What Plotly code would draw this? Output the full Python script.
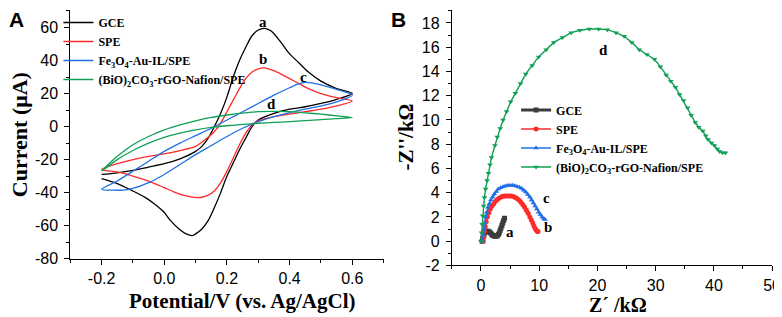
import plotly.graph_objects as go

# ---------------- Panel A: cyclic voltammograms ----------------
cv_names = ["GCE", "SPE", "Fe<sub>3</sub>O<sub>4</sub>-Au-IL/SPE",
            "(BiO)<sub>2</sub>CO<sub>3</sub>-rGO-Nafion/SPE"]
cv_colors = ["#000000", "#ff2a2a", "#1f70e6", "#10a055"]

gce_E = [-0.2, -0.15, -0.1, -0.05, 0.0, 0.05, 0.1, 0.12, 0.14, 0.16, 0.18, 0.2, 0.22, 0.24, 0.26, 0.28, 0.3,
         0.32, 0.34, 0.36, 0.38, 0.4, 0.43, 0.46, 0.5, 0.55, 0.6,
         0.55, 0.5, 0.45, 0.4, 0.35, 0.3, 0.28, 0.26, 0.24, 0.22, 0.2, 0.18, 0.16, 0.14, 0.12, 0.1, 0.09,
         0.07, 0.05, 0.02, 0.0, -0.03, -0.06, -0.1, -0.15, -0.2]
gce_I = [-29, -28, -26.5, -24.5, -22.5, -19.5, -15, -12, -7, 0, 8, 18, 30, 40, 48, 55, 58.5,
         59.5, 58, 54, 49, 44, 38.5, 33, 27.5, 23, 20,
         16.5, 14, 12, 10.5, 8, 4, 0, -7, -14, -22, -30, -40, -49, -57, -62, -65, -66,
         -65, -62.5, -57, -52, -47, -43, -39, -34.5, -31.5]

spe_E = [-0.2, -0.15, -0.1, -0.05, 0.0, 0.05, 0.1, 0.13, 0.16, 0.18, 0.2, 0.22, 0.24, 0.26, 0.28, 0.3,
         0.32, 0.34, 0.36, 0.38, 0.4, 0.43, 0.46, 0.5, 0.55, 0.6,
         0.55, 0.5, 0.45, 0.4, 0.35, 0.3, 0.28, 0.26, 0.24, 0.22, 0.2, 0.18, 0.16, 0.14, 0.12, 0.105,
         0.09, 0.06, 0.03, 0.0, -0.05, -0.1, -0.15, -0.2]
spe_I = [-26, -22.5, -20, -18, -16.5, -14.5, -12, -8, -3, 2, 9, 16, 23, 29, 33, 35,
         35.5, 34.5, 33, 31, 29, 26, 23, 20, 17.5, 15.5,
         12.5, 10.5, 9, 7.5, 6, 3.5, 1, -4, -11, -19, -27, -34, -39, -41.5, -42.8, -43,
         -42.7, -41.5, -39.5, -37, -33, -30, -27.5, -26]

fe_E = [-0.2, -0.15, -0.1, -0.05, 0.0, 0.05, 0.1, 0.15, 0.2, 0.25, 0.3, 0.35, 0.4, 0.43, 0.45, 0.47,
        0.5, 0.55, 0.6,
        0.55, 0.5, 0.45, 0.4, 0.35, 0.3, 0.25, 0.2, 0.15, 0.1, 0.05, 0.0, -0.05, -0.1, -0.13, -0.16, -0.2]
fe_I = [-38, -33, -27, -21, -15, -10, -5.5, -1, 4, 9, 14, 19, 23.5, 26, 26.8, 26.5,
        25.3, 22.5, 19,
        15, 12.5, 10.5, 8.5, 6, 3, -1, -6, -11.5, -17, -23, -29, -34, -37.5, -38.5, -38.5, -38]

bio_E = [-0.2, -0.15, -0.1, -0.05, 0.0, 0.05, 0.1, 0.15, 0.2, 0.25, 0.3, 0.35, 0.4, 0.45, 0.5, 0.55, 0.6,
         0.55, 0.5, 0.45, 0.4, 0.35, 0.3, 0.25, 0.2, 0.15, 0.1, 0.05, 0.0, -0.05, -0.1, -0.15, -0.2]
bio_I = [-27, -18, -11, -6, -2, 1, 3.5, 5.5, 7, 8.2, 9, 9.2, 9, 8.3, 7.5, 6.5, 5.5,
         4.8, 4.2, 3.6, 3.0, 2.5, 2.0, 1.3, 0.5, -0.5, -2, -4, -6.5, -10, -14.5, -20, -27]

cv_labels = ["a", "b", "c", "d"]
cv_label_E = [0.314, 0.314, 0.443, 0.341]
cv_label_I = [63.5, 40.8, 30.2, 13.5]

# ---------------- Panel B: Nyquist plots ----------------
eis_names = cv_names
eis_colors = ["#3c3c3c", "#ff2a2a", "#1f70e6", "#10a055"]
eis_symbols = ["square", "circle", "triangle-up", "triangle-down"]

gce_Zr = [0.2, 0.3, 0.4, 0.5, 0.65, 0.8, 1.0, 1.2, 1.4, 1.6, 1.8, 2.0, 2.2, 2.4, 2.6, 2.8, 3.0, 3.15,
          3.3, 3.45, 3.6, 3.75, 3.9, 4.05]
gce_Zi = [0, 0.2, 0.4, 0.55, 0.7, 0.78, 0.82, 0.82, 0.78, 0.7, 0.6, 0.5, 0.45, 0.42, 0.42, 0.45, 0.55, 0.7,
          0.9, 1.1, 1.3, 1.5, 1.7, 1.9]

spe_Zr = [0.4, 0.5, 0.6, 0.75, 0.9, 1.1, 1.35, 1.6, 1.9, 2.2, 2.5, 2.8, 3.1, 3.45, 3.8, 4.15, 4.5, 4.85,
          5.2, 5.55, 5.9, 6.25, 6.6, 6.9, 7.2, 7.5, 7.8, 8.1, 8.4, 8.65, 8.9, 9.1, 9.3, 9.5, 9.7, 9.8]
spe_Zi = [0, 0.4, 0.8, 1.2, 1.6, 2.0, 2.35, 2.65, 2.9, 3.1, 3.3, 3.45, 3.55, 3.65, 3.7, 3.72, 3.74, 3.74,
          3.72, 3.68, 3.6, 3.5, 3.35, 3.2, 3.0, 2.8, 2.55, 2.3, 2.0, 1.75, 1.5, 1.25, 1.05, 0.9, 0.8, 0.8]

fe_Zr = [0.3, 0.4, 0.5, 0.65, 0.8, 1.0, 1.2, 1.45, 1.7, 2.0, 2.3, 2.65, 3.0, 3.4, 3.8, 4.2, 4.6, 5.0, 5.4,
         5.8, 6.2, 6.6, 7.0, 7.35, 7.7, 8.05, 8.4, 8.7, 9.0, 9.3, 9.6, 9.9, 10.2, 10.5, 10.8, 11.0]
fe_Zi = [0, 0.5, 1.0, 1.5, 2.0, 2.4, 2.8, 3.1, 3.4, 3.65, 3.9, 4.1, 4.3, 4.42, 4.5, 4.56, 4.6, 4.62, 4.62,
         4.58, 4.52, 4.45, 4.35, 4.2, 4.05, 3.85, 3.65, 3.4, 3.15, 2.9, 2.65, 2.4, 2.2, 2.0, 1.85, 1.8]

bio_Zr = [0, 0.1, 0.2, 0.3, 0.45, 0.6, 0.8, 1.05, 1.3, 1.55, 1.8, 2.4, 2.8, 3.3, 3.8, 4.4, 5.1, 5.9, 6.8,
          7.7, 8.8, 9.9, 11.2, 12.5, 14.0, 15.5, 17.0, 18.6, 20.2, 21.7, 23.2, 24.6, 25.9, 27.2, 28.5,
          29.8, 30.8, 31.8, 32.6, 33.4, 34.1, 34.8, 35.5, 36.1, 36.8, 37.4, 38.1, 38.6, 39.0, 39.6,
          40.1, 40.6, 41.0, 41.5, 42.0]
bio_Zi = [0, 0.7, 1.4, 2.1, 2.9, 3.6, 4.3, 5.0, 5.6, 6.3, 6.9, 7.9, 8.6, 9.3, 10.0, 10.7, 11.5, 12.2, 13.0,
          13.8, 14.5, 15.2, 15.8, 16.4, 16.8, 17.2, 17.4, 17.5, 17.5, 17.45, 17.2, 16.9, 16.4, 15.8, 15.4,
          15.0, 14.4, 13.7, 13.2, 12.7, 12.1, 11.6, 11.0, 10.4, 9.8, 9.4, 9.1, 8.7, 8.4, 8.1,
          7.9, 7.6, 7.4, 7.3, 7.3]

eis_labels = ["a", "b", "c", "d"]
eis_label_Zr = [5.0, 11.5, 11.2, 21.1]
eis_label_Zi = [0.8, 1.2, 3.55, 15.8]

# tick labels
a_xticks = [-0.2, 0.0, 0.2, 0.4, 0.6]
a_xticktext = ["-0.2", "0.0", "0.2", "0.4", "0.6"]
a_yticks = [-80, -60, -40, -20, 0, 20, 40, 60]
a_yticktext = ["-80", "-60", "-40", "-20", "0", "20", "40", "60"]
b_xticks = [0, 10, 20, 30, 40, 50]
b_xticktext = ["0", "10", "20", "30", "40", "50"]
b_yticks = [-2, 0, 2, 4, 6, 8, 10, 12, 14, 16, 18]
b_yticktext = ["-2", "0", "2", "4", "6", "8", "10", "12", "14", "16", "18"]

W, H = 782, 317
SERIF = "Liberation Serif, Times New Roman, serif"
SANS = "Liberation Sans, Arial, sans-serif"

fig = go.Figure()

cv_E = [gce_E, spe_E, fe_E, bio_E]
cv_I = [gce_I, spe_I, fe_I, bio_I]
for name, col, E, I in zip(cv_names, cv_colors, cv_E, cv_I):
    fig.add_trace(go.Scatter(x=E, y=I, mode="lines", name=name,
                             line=dict(color=col, width=1.3, shape="spline", smoothing=0.8),
                             xaxis="x", yaxis="y", legend="legend"))

eis_x = [gce_Zr, spe_Zr, fe_Zr, bio_Zr]
eis_y = [gce_Zi, spe_Zi, fe_Zi, bio_Zi]
eis_widths = [3, 1.6, 1.6, 1.4]
for name, col, sym, zx, zy, lw in zip(eis_names, eis_colors, eis_symbols, eis_x, eis_y, eis_widths):
    fig.add_trace(go.Scatter(x=zx, y=zy, mode="lines+markers", name=name,
                             line=dict(color=col, width=lw),
                             marker=dict(symbol=sym, size=5, color=col),
                             xaxis="x2", yaxis="y2", legend="legend2"))

annotations = []
for t, ex, iy in zip(cv_labels, cv_label_E, cv_label_I):
    annotations.append(dict(x=ex, y=iy, xref="x", yref="y", text="<b>%s</b>" % t, showarrow=False,
                            xanchor="center", yanchor="middle",
                            font=dict(family=SERIF, size=15, color="black")))
for t, ex, iy in zip(eis_labels, eis_label_Zr, eis_label_Zi):
    annotations.append(dict(x=ex, y=iy, xref="x2", yref="y2", text="<b>%s</b>" % t, showarrow=False,
                            xanchor="center", yanchor="middle",
                            font=dict(family=SERIF, size=15, color="black")))

def px_x(p):
    return p / W

def px_y(p):
    return 1 - p / H

def paper_text(x, y, text, family, size, angle=0):
    return dict(x=px_x(x), y=px_y(y), xref="paper", yref="paper", showarrow=False,
                xanchor="center", yanchor="middle", textangle=angle,
                text=text, font=dict(family=family, size=size, color="black"))

# axis titles and panel letters
annotations += [
    paper_text(237, 302, "<b>Potential/V (vs. Ag/AgCl)</b>", SERIF, 21),
    paper_text(11, 130, "<b>Current (μA)</b>", SERIF, 22, -90),
    paper_text(617, 306, "<b>Z\u00b4 /kΩ</b>", SERIF, 20),
    paper_text(403, 133, "<b>-Z''/kΩ</b>", SERIF, 21, -90),
    paper_text(9, 12, "<b>A</b>", SANS, 21),
    paper_text(395, 12, "<b>B</b>", SANS, 21),
]

axis_common = dict(showline=True, linecolor="black", linewidth=1, ticks="outside", ticklen=5,
                   tickwidth=1, tickcolor="black", showgrid=False, zeroline=False, mirror=False,
                   tickfont=dict(family=SANS, size=16, color="black"))

fig.update_layout(
    width=W, height=H, margin=dict(l=0, r=0, t=0, b=0),
    paper_bgcolor="white", plot_bgcolor="white",
    showlegend=True,
    xaxis=dict(domain=[px_x(63), px_x(380)], range=[-0.3, 0.7], anchor="y",
               tickvals=a_xticks, ticktext=a_xticktext, ticklabelstandoff=0,
               minor=dict(dtick=0.1, tick0=0, ticks="outside", ticklen=3, tickcolor="black"),
               **axis_common),
    yaxis=dict(domain=[px_y(258), px_y(1.7)], range=[-80, 70.8], anchor="x",
               tickvals=a_yticks, ticktext=a_yticktext, ticklabelstandoff=3,
               minor=dict(dtick=10, tick0=0, ticks="outside", ticklen=3, tickcolor="black"),
               **axis_common),
    xaxis2=dict(domain=[px_x(449), px_x(773)], range=[-5, 50], anchor="y2",
                tickvals=b_xticks, ticktext=b_xticktext, ticklabelstandoff=0,
                minor=dict(dtick=5, tick0=0, ticks="outside", ticklen=3, tickcolor="black"),
                **axis_common),
    yaxis2=dict(domain=[px_y(265), px_y(1.7)], range=[-2, 19.1], anchor="x2",
                tickvals=b_yticks, ticktext=b_yticktext, ticklabelstandoff=3,
                minor=dict(dtick=1, tick0=0, ticks="outside", ticklen=3, tickcolor="black"),
                **axis_common),
    legend=dict(x=px_x(51), y=1.0, xanchor="left", yanchor="top", bgcolor="rgba(0,0,0,0)",
                font=dict(family=SERIF, size=12, color="black", weight="bold"),
                tracegroupgap=0, itemwidth=30),
    legend2=dict(x=px_x(514), y=px_y(90), xanchor="left", yanchor="top", bgcolor="rgba(0,0,0,0)",
                 font=dict(family=SERIF, size=12, color="black", weight="bold"),
                 tracegroupgap=0, itemwidth=30),
    annotations=annotations,
)

fig.write_html("out.html")
